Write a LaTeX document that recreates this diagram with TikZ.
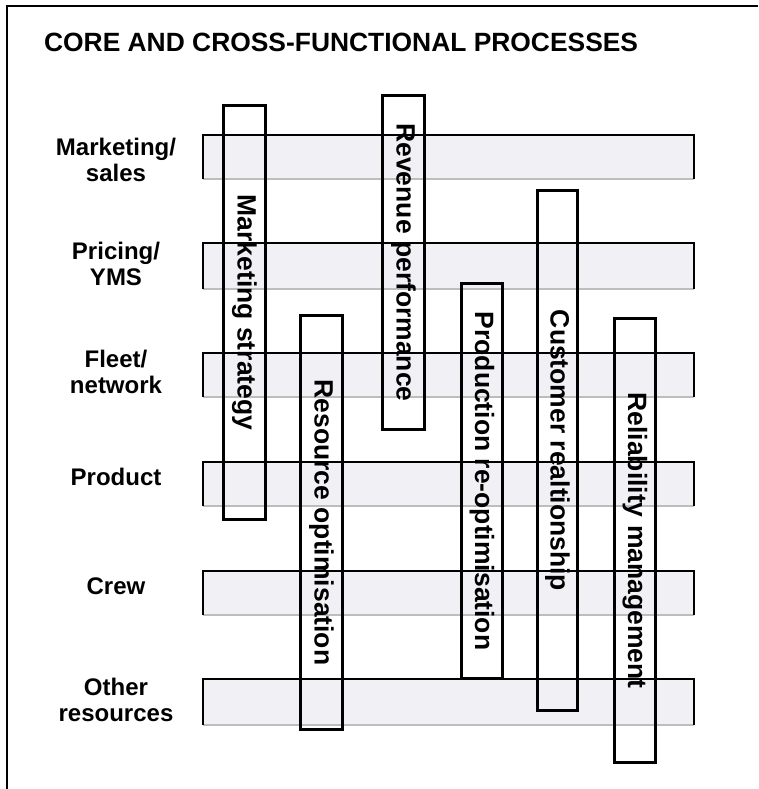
\documentclass[tikz,border=0pt]{standalone}
\usepackage{fontspec}
\setmainfont{Liberation Sans}
\definecolor{bandgrey}{HTML}{F1F0F5}
\definecolor{bandshade}{HTML}{BDBDBD}
\begin{document}
\begin{tikzpicture}[x=1pt,y=-1pt,
  frameline/.style={line width=1.6pt, black},
  bandedge/.style={line width=1.4pt, black},
  bandbottom/.style={line width=1.4pt, bandshade},
  procbox/.style={draw=black, line width=2.7pt, fill=none, inner sep=0pt,
    rotate=-90, font=\fontsize{26.5}{30}\selectfont\bfseries},
  rowlabel/.style={align=center, inner sep=0pt,
    font=\fontsize{24}{26}\selectfont\bfseries},
  titletext/.style={inner sep=0pt, font=\fontsize{26.4}{30}\selectfont\bfseries}]
\useasboundingbox (0,0) rectangle (758,789);

% outer frame (top and left edges)
\draw[frameline] (7,789) -- (7,6) -- (758,6);

% title
\node[titletext, anchor=base west] (title) at (43.9,51.7) {CORE AND CROSS-FUNCTIONAL PROCESSES};

% horizontal function bands
\foreach \top/\bot in {135/179, 243/289, 353/397, 462/506, 571/615, 679/725} {
  \fill[bandgrey] (203,\top) rectangle (694,\bot);
  \draw[bandbottom] (203,\bot) -- (694,\bot);
  \draw[bandedge] (203,\bot) -- (203,\top) -- (694,\top) -- (694,\bot);
}

% row labels
\node[rowlabel] (lmkt)  at (116,160) {Marketing/\\sales};
\node[rowlabel] (lpri)  at (116,264) {Pricing/\\YMS};
\node[rowlabel] (lflt)  at (116,372) {Fleet/\\network};
\node[rowlabel] (lprod) at (116,477) {Product};
\node[rowlabel] (lcrew) at (116,586) {Crew};
\node[rowlabel] (loth)  at (116,700) {Other\\resources};

% cross-functional process boxes (length along the text, width across)
\node[procbox, minimum width=414.3pt, minimum height=42.3pt] (pms) at (244.5,312.5) {Marketing strategy};
\node[procbox, minimum width=334.3pt, minimum height=42.3pt] (prp) at (403.5,262.5) {Revenue performance};
\node[procbox, minimum width=414.3pt, minimum height=42.3pt] (pro) at (321.5,522.5) {Resource optimisation};
\node[procbox, minimum width=395.3pt, minimum height=41.3pt] (ppr) at (482,481) {Production re-optimisation};
\node[procbox, minimum width=520.3pt, minimum height=40.3pt] (pcr) at (557.5,450.5) {Customer realtionship};
\node[procbox, minimum width=444.3pt, minimum height=41.3pt] (prm) at (635,540.5) {Reliability management};
\end{tikzpicture}
\end{document}
